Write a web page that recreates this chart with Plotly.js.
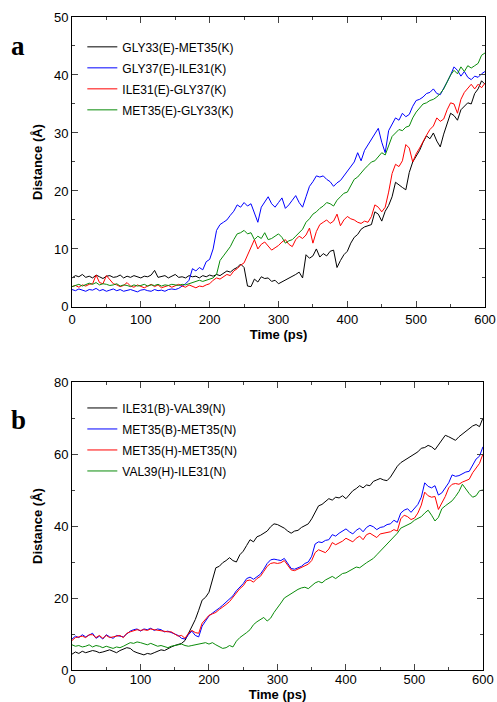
<!DOCTYPE html>
<html>
<head>
<meta charset="utf-8">
<script src="https://cdn.plot.ly/plotly-3.0.1.min.js"></script>
<style>
html,body{margin:0;padding:0;background:#fff;}
#chart{width:497px;height:702px;}
</style>
</head>
<body>
<div id="chart"></div>
<script>
// Time axis: 0..600 ps, every 5 ps
var time = [];
for (var i = 0; i <= 120; i++) time.push(i * 5);

// Panel a series names
var namesA = ["GLY33(E)-MET35(K)", "GLY37(E)-ILE31(K)", "ILE31(E)-GLY37(K)", "MET35(E)-GLY33(K)"];
// Panel b series names
var namesB = ["ILE31(B)-VAL39(N)", "MET35(B)-MET35(N)", "MET35(H)-MET35(N)", "VAL39(H)-ILE31(N)"];

// Panel a values (Å)
var gly33_met35 = [5.0,5.4,5.2,5.6,5.1,5.3,5.0,5.5,5.2,4.9,5.3,5.4,5.1,5.2,5.5,5.0,5.3,5.1,5.4,5.2,5.0,5.3,5.2,5.5,6.3,5.1,5.2,5.4,5.0,5.3,5.6,5.1,5.2,5.0,5.4,5.2,
5.3,5.0,5.4,5.2,5.5,5.3,5.6,5.4,5.8,6.2,6.0,6.5,6.8,7.4,6.8,
3.6,3.5,4.8,4.3,5.2,4.9,5.0,4.4,4.6,4.0,4.3,4.6,5.0,5.3,5.6,6.0,5.0,
9.0,8.4,8.8,10.0,8.6,9.2,8.8,9.6,9.8,6.8,8.0,9.0,9.6,
11.0,12.0,12.5,13.4,13.8,14.0,14.2,16.4,16.0,14.8,16.5,17.5,
19.0,21.5,21.0,20.6,20.2,23.2,25.0,26.0,27.0,28.4,29.5,29.0,
30.0,28.6,27.6,29.8,31.5,33.4,33.0,32.2,34.0,34.6,35.2,35.0,36.8,37.6,39.0,38.4];
var gly37_ile31 = [3.0,2.8,3.1,2.9,2.7,3.0,2.9,3.2,2.8,3.0,2.7,2.9,3.1,2.8,3.0,2.7,2.9,3.0,2.8,2.6,2.9,3.0,2.8,2.7,3.0,2.8,2.9,2.7,3.0,3.1,3.0,3.2,
3.6,4.0,4.6,6.6,6.2,6.8,6.4,7.8,8.2,10.0,
13.2,14.2,14.6,15.0,15.8,16.5,17.6,17.2,18.0,17.4,17.8,
16.2,14.6,17.2,18.0,19.0,17.8,17.2,18.0,18.8,17.0,17.6,18.4,19.2,18.0,17.2,19.0,20.8,21.6,
22.6,22.4,22.6,22.0,21.6,20.8,21.4,21.8,22.6,23.2,24.2,25.0,26.6,25.2,
27.0,28.0,29.0,29.8,30.8,28.4,26.6,30.4,31.5,32.6,32.2,33.4,32.8,33.2,34.6,35.6,
35.8,36.2,36.8,37.0,37.6,36.8,36.6,37.6,38.8,40.0,41.4,40.8,39.8,40.6,39.6,39.2,39.8,39.6,40.2,40.6];
var ile31_gly37 = [3.5,3.7,3.4,3.8,3.6,3.9,4.0,5.5,4.2,4.0,5.4,4.6,4.0,3.8,3.5,3.7,4.2,3.6,3.4,3.8,3.5,3.3,3.6,3.9,3.5,3.8,3.3,3.5,3.7,3.4,3.6,3.9,3.6,3.4,3.8,3.5,3.3,3.6,3.5,3.8,
4.0,4.6,5.0,4.8,5.2,5.6,5.4,6.2,6.6,7.2,7.6,9.0,10.4,
11.6,10.0,10.8,11.2,10.4,9.8,10.2,10.6,11.2,11.6,10.8,10.4,11.6,12.2,11.8,12.4,13.6,11.0,
13.0,14.2,14.6,15.0,14.4,14.8,16.0,14.0,15.0,15.6,15.2,15.0,14.6,14.4,14.8,14.6,15.6,17.6,17.2,16.4,
17.2,19.8,23.0,24.6,24.2,25.2,28.0,27.4,25.0,26.4,27.4,28.6,29.6,30.6,31.2,32.6,32.0,32.4,34.0,35.2,35.0,33.4,35.8,37.0,37.8,38.4,37.6,38.4,37.8,38.6];
var met35_gly33 = [3.5,3.7,3.9,3.6,3.8,4.1,3.9,4.2,3.8,4.0,3.9,3.7,3.8,4.0,3.6,3.8,3.7,3.5,3.8,3.6,3.7,3.9,3.6,3.8,3.7,3.9,3.6,3.8,3.7,3.9,3.8,3.7,3.9,3.8,
4.0,4.2,4.4,4.6,4.4,4.6,4.8,5.0,5.6,
8.0,8.8,9.6,10.4,11.6,12.6,12.8,13.2,12.6,12.8,11.6,12.2,11.8,12.8,11.6,11.8,12.2,12.6,
12.0,11.0,11.4,11.6,12.2,12.8,13.4,14.6,15.2,16.0,16.4,17.0,17.4,18.0,17.8,17.4,18.4,19.0,19.6,19.8,
21.0,22.0,22.4,23.2,23.8,24.4,25.0,25.2,26.0,26.6,26.2,28.0,29.4,30.0,30.6,30.4,31.0,31.2,32.6,33.6,
34.4,35.0,35.2,35.6,35.8,36.2,36.8,37.6,38.8,40.0,40.8,40.2,41.4,40.6,41.6,41.2,41.6,42.0,43.4,43.8];

// Panel b values (Å)
var ile31_val39 = [4.4,5.0,4.6,5.2,4.8,5.0,5.4,5.2,4.8,5.0,5.4,5.6,5.2,4.8,5.4,5.8,6.2,6.0,5.2,4.8,4.4,4.2,4.6,4.4,4.8,5.2,5.6,5.4,6.0,6.4,6.8,7.2,7.4,8.2,
10.0,12.0,14.0,16.6,19.4,20.2,21.6,25.0,28.4,28.8,29.8,30.4,31.2,30.4,30.0,32.0,33.0,
34.6,36.2,35.6,37.0,37.4,38.0,38.6,39.8,40.6,40.4,40.0,39.4,38.6,38.0,38.6,38.8,39.6,40.2,40.6,42.0,
44.0,45.6,46.0,46.8,47.6,47.2,48.0,47.8,48.4,47.6,48.6,49.8,50.4,51.2,50.6,51.4,51.2,52.4,52.8,53.2,
52.8,52.6,53.6,55.0,56.6,57.6,58.2,58.6,59.4,59.8,60.6,61.6,61.8,62.4,62.0,61.2,62.6,64.0,65.2,64.8,64.4,63.8,64.8,65.6,66.2,67.0,67.8,68.2,67.6,70.0];
var met35b_met35n = [8.6,9.4,9.0,9.8,9.2,9.6,10.2,8.8,9.4,8.6,9.8,9.2,8.8,9.6,9.4,9.2,10.0,10.8,11.2,11.4,10.8,11.4,11.2,11.6,11.0,11.4,11.2,10.6,10.8,10.4,10.2,9.6,8.8,8.6,9.8,10.8,9.6,9.2,
12.2,13.6,15.0,15.8,16.4,17.2,18.0,18.8,19.6,20.6,22.0,23.0,24.0,25.4,25.8,25.2,26.0,26.6,28.0,
29.6,30.6,30.8,30.6,30.4,31.0,29.6,28.2,28.0,28.4,28.8,29.6,30.0,31.6,
35.0,35.6,35.4,36.0,36.2,37.6,37.2,38.0,38.6,39.2,38.4,37.8,38.8,39.4,38.4,39.6,40.2,39.8,39.0,39.6,
39.8,40.4,40.6,41.6,41.0,43.6,44.4,44.8,43.8,45.0,46.0,48.0,52.0,51.0,50.6,51.2,48.6,49.2,50.6,52.0,54.2,53.8,54.0,54.6,55.0,55.2,56.8,58.6,59.4,62.0];
var met35h_met35n = [8.2,9.0,9.2,9.4,9.0,9.8,9.8,9.0,9.6,8.8,9.6,9.0,9.2,9.4,9.6,9.0,10.2,10.6,11.0,11.2,11.0,11.2,11.0,11.4,11.2,11.0,10.8,10.8,10.6,10.6,10.0,9.4,9.6,8.8,10.2,11.0,10.4,10.2,
13.0,14.0,15.2,15.6,16.0,16.8,17.4,18.2,19.0,20.2,21.4,22.6,23.4,24.8,25.0,24.4,25.4,26.0,27.4,
28.8,29.6,29.8,29.6,29.8,30.4,29.0,27.8,27.6,28.0,28.6,29.0,29.4,30.4,
32.6,33.4,33.0,32.6,33.6,35.4,34.8,35.2,35.8,36.6,36.0,35.6,36.6,37.2,36.2,37.6,38.0,37.4,36.8,37.8,
38.0,38.2,38.4,39.0,38.6,42.0,43.0,42.6,41.8,42.2,43.6,45.8,49.4,48.4,48.0,48.2,44.6,46.4,48.2,50.6,51.6,51.8,51.6,52.2,52.6,53.0,54.8,56.2,57.4,60.0];
var val39_ile31 = [7.0,6.6,6.8,6.4,6.6,7.0,6.4,6.8,6.6,6.2,6.6,6.4,6.0,6.4,6.2,6.6,7.2,7.6,7.4,7.8,7.6,7.2,7.0,7.4,7.0,6.6,6.8,6.4,6.2,6.6,6.8,7.0,7.2,6.8,6.6,6.8,7.0,7.2,7.4,7.6,7.2,7.6,7.0,6.6,6.0,6.2,6.8,6.4,
8.0,9.0,9.6,10.4,11.2,12.6,13.4,14.0,14.6,13.6,14.4,16.0,17.2,18.6,20.0,20.6,21.4,21.8,22.4,
22.8,23.0,22.6,23.4,24.2,24.6,24.2,25.0,25.6,26.0,25.4,26.2,26.8,27.0,27.6,28.0,28.6,28.4,29.2,29.8,
30.4,31.0,32.0,33.0,34.0,35.0,36.0,37.0,38.0,39.4,39.8,40.4,40.8,41.6,42.0,42.6,43.6,44.4,43.0,41.4,42.4,44.8,45.6,46.2,47.0,48.2,49.6,51.6,50.2,49.0,48.0,48.4,49.8,50.0];

var colors = ["#000000", "#0000ff", "#ff0000", "#0a8c0a"];
var seriesA = [gly33_met35, gly37_ile31, ile31_gly37, met35_gly33];
var seriesB = [ile31_val39, met35b_met35n, met35h_met35n, val39_ile31];

var traces = [];
seriesA.forEach(function (ys, k) {
  traces.push({x: time, y: ys, name: namesA[k], type: "scatter", mode: "lines",
    line: {color: colors[k], width: 1}, xaxis: "x", yaxis: "y", legend: "legend",
    legendgroup: "a" + k});
});
seriesB.forEach(function (ys, k) {
  traces.push({x: time, y: ys, name: namesB[k], type: "scatter", mode: "lines",
    line: {color: colors[k], width: 1}, xaxis: "x2", yaxis: "y2", legend: "legend2",
    legendgroup: "b" + k});
});

var tickFont = {family: "Liberation Sans, Arial, sans-serif", size: 13, color: "#000"};
var titleFont = {family: "Liberation Sans, Arial, sans-serif", size: 13, color: "#000", weight: "bold"};

function xax(domainEnd, anchor, labelShift, titleStandoff) {
  return {
    domain: [0, domainEnd], anchor: anchor, range: [0, 600], dtick: 100, tick0: 0,
    ticks: "inside", ticklen: 6, tickwidth: 1, tickcolor: "#444",
    minor: {dtick: 50, ticks: "inside", ticklen: 3, tickcolor: "#444"},
    showline: true, linecolor: "#000", linewidth: 1, mirror: "ticks",
    showgrid: false, zeroline: false, tickfont: tickFont,
    ticklabelstandoff: labelShift,
    title: {text: "Time (ps)", font: titleFont, standoff: titleStandoff},
    automargin: false
  };
}
function yax(domain, anchor, maxv, dt) {
  return {
    domain: domain, anchor: anchor, range: [0, maxv], dtick: dt, tick0: 0,
    ticks: "inside", ticklen: 6, tickwidth: 1, tickcolor: "#444",
    minor: {dtick: dt / 2, ticks: "inside", ticklen: 3, tickcolor: "#444"},
    showline: true, linecolor: "#000", linewidth: 1, mirror: "ticks",
    showgrid: false, zeroline: false, tickfont: tickFont,
    title: {text: "Distance (Å)", font: titleFont, standoff: 8},
    automargin: false
  };
}

var legendFont = {family: "Liberation Sans, Arial, sans-serif", size: 12, color: "#000"};

var layout = {
  width: 497, height: 702,
  margin: {l: 72, r: 12, t: 17, b: 32},
  paper_bgcolor: "#fff", plot_bgcolor: "#fff",
  showlegend: true,
  xaxis: xax(1, "y", 0, 2),
  yaxis: yax([0.556, 1], "x", 50, 10),
  xaxis2: xax(0.995, "y2", -3, 0),
  yaxis2: yax([0, 0.441], "x2", 80, 20),
  legend: {x: 0.025, y: 0.9765, xanchor: "left", yanchor: "top", bgcolor: "rgba(0,0,0,0)",
    borderwidth: 0, font: legendFont, traceorder: "grouped", tracegroupgap: 2},
  legend2: {x: 0.025, y: 0.4235, xanchor: "left", yanchor: "top", bgcolor: "rgba(0,0,0,0)",
    borderwidth: 0, font: legendFont, traceorder: "grouped", tracegroupgap: 2},
  annotations: [
    {text: "a", xref: "paper", yref: "paper", x: -0.13, y: 0.955, xanchor: "center", yanchor: "middle",
      showarrow: false, font: {family: "Liberation Serif, Times New Roman, serif", size: 27, color: "#000", weight: "bold"}},
    {text: "b", xref: "paper", yref: "paper", x: -0.13, y: 0.383, xanchor: "center", yanchor: "middle",
      showarrow: false, font: {family: "Liberation Serif, Times New Roman, serif", size: 27, color: "#000", weight: "bold"}}
  ]
};

Plotly.newPlot("chart", traces, layout, {displayModeBar: false, staticPlot: true});
</script>
</body>
</html>
